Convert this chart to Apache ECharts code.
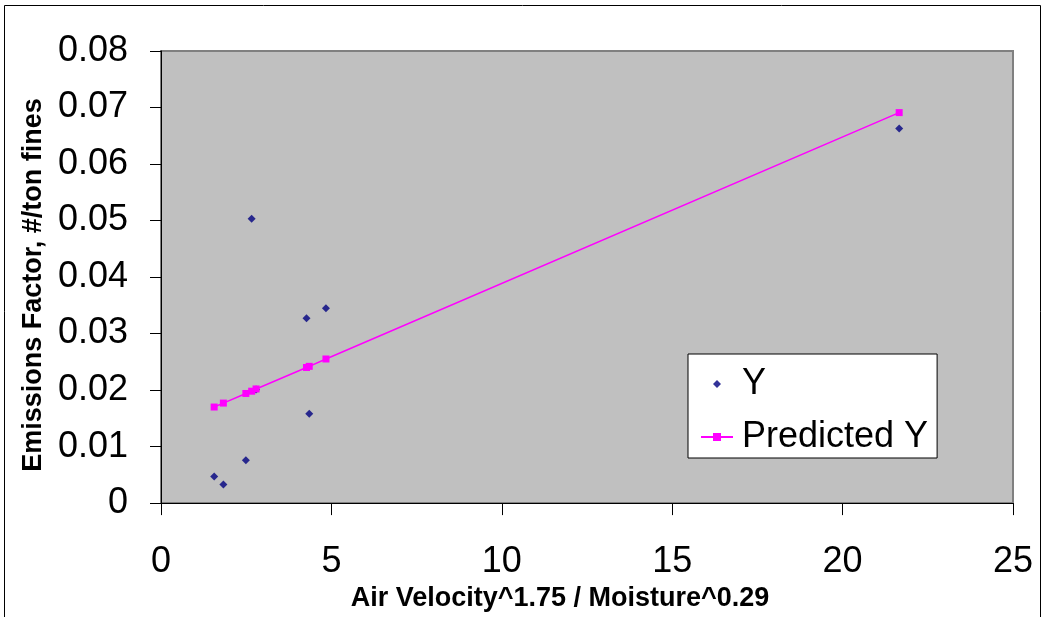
<!DOCTYPE html>
<html>
<head>
<meta charset="utf-8">
<script src="https://cdn.jsdelivr.net/npm/echarts@6/dist/echarts.min.js"></script>
<style>
  html, body { margin: 0; padding: 0; background: #fff; }
  #chart { width: 1045px; height: 617px; }
</style>
</head>
<body>
<div id="chart"></div>
<script>
// x 值（Air Velocity^1.75 / Moisture^0.29）
const xValues = [1.56, 1.83, 2.49, 2.66, 2.79, 4.27, 4.35, 4.84, 21.66];
// 实测 Y
const yValues = [0.0047, 0.0033, 0.0076, 0.0503, 0.0201, 0.0327, 0.0158, 0.0345, 0.0663];
// 预测 Y
const predictedValues = [0.0170, 0.0177, 0.0194, 0.0198, 0.0202, 0.0240, 0.0242, 0.0255, 0.0691];

const font = 'Liberation Sans, Arial, sans-serif';
// 图例小菱形：用 M 点撑开包围盒，保持菱形小尺寸
const smallDiamond = 'path://M0,0 M30,10 M15,1 L19,5 L15,9 L11,5 Z';

let chart = echarts.init(document.getElementById('chart'));
chart.setOption({
  animation: false,
  backgroundColor: '#fff',
  textStyle: { fontFamily: font, color: '#000' },
  grid: {
    left: 161,
    right: 32,
    top: 51,
    bottom: 112,
    show: true,
    backgroundColor: '#c0c0c0',
    borderColor: '#808080',
    borderWidth: 2,
  },
  graphic: [
    {
      type: 'polyline', //外框
      shape: { points: [[4.5, 617], [4.5, 5.5], [1040.5, 5.5], [1040.5, 617]] },
      style: { stroke: '#000', lineWidth: 1, fill: null },
      silent: true,
    },
  ],
  legend: {
    orient: 'vertical',
    left: 688,
    top: 354,
    padding: [12, 9, 3, 12],
    itemGap: 17,
    itemWidth: 32,
    itemHeight: 10,
    backgroundColor: '#fff',
    borderColor: '#000',
    borderWidth: 1,
    textStyle: { fontFamily: font, fontSize: 36, color: '#000', padding: [0, 0, 0, 4] },
    data: [
      { name: 'Y', icon: smallDiamond, itemStyle: { color: '#000080' } },
      { name: 'Predicted Y' },
    ],
  },
  xAxis: {
    type: 'value',
    min: 0,
    max: 25,
    interval: 5,
    name: 'Air Velocity^1.75 / Moisture^0.29',
    nameLocation: 'middle',
    nameGap: 81,
    nameTextStyle: {
      fontFamily: font,
      fontSize: 27,
      fontWeight: 'bold',
      color: '#000',
      padding: [0, 54, 0, 0], //标题略向左偏
    },
    axisLine: { show: true, lineStyle: { color: '#000', width: 1 } },
    axisTick: { show: true, inside: false, length: 12, lineStyle: { color: '#000' } },
    axisLabel: { fontFamily: font, fontSize: 36, color: '#000', margin: 41 },
    splitLine: { show: false },
  },
  yAxis: {
    type: 'value',
    min: 0,
    max: 0.08,
    interval: 0.01,
    name: 'Emissions Factor, #/ton fines',
    nameLocation: 'middle',
    nameGap: 114,
    nameTextStyle: {
      fontFamily: font,
      fontSize: 27,
      fontWeight: 'bold',
      color: '#000',
      padding: [0, 16, 0, 0], //标题略向下偏
    },
    axisLine: { show: true, lineStyle: { color: '#000', width: 1 } },
    axisTick: { show: true, inside: false, length: 11, lineStyle: { color: '#000' } },
    axisLabel: { fontFamily: font, fontSize: 36, color: '#000', margin: 33 },
    splitLine: { show: false },
  },
  series: [
    {
      type: 'scatter',
      name: 'Y',
      symbol: 'diamond',
      symbolSize: 8,
      itemStyle: { color: '#000080' },
      data: xValues.map((x, i) => [x, yValues[i]]),
      z: 2,
    },
    {
      type: 'line',
      name: 'Predicted Y',
      symbol: 'rect',
      symbolSize: 7,
      showAllSymbol: true,
      itemStyle: { color: '#ff00ff' },
      lineStyle: { color: '#ff00ff', width: 1.5 },
      data: xValues.map((x, i) => [x, predictedValues[i]]),
      z: 3,
    },
  ],
});
</script>
</body>
</html>
